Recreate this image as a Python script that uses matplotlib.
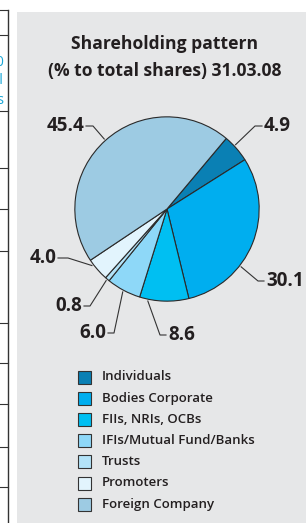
import matplotlib
matplotlib.use("Agg")
import matplotlib.pyplot as plt
import numpy as np

# datos del grafico
categorias = ["Individuals", "Bodies Corporate", "FIIs, NRIs, OCBs",
              "IFIs/Mutual Fund/Banks", "Trusts", "Promoters", "Foreign Company"]
valores = [4.9, 30.1, 8.6, 6.0, 0.8, 4.0, 45.4]
etiquetas = ["4.9", "30.1", "8.6", "6.0", "0.8", "4.0", "45.4"]
colores = ["#0a80b4", "#00aeef", "#00bff2", "#8ed8f8", "#b3e3f8", "#e2f4fd", "#9dcbe3"]

titulo = "Shareholding pattern\n(% to total shares) 31.03.08"

W, H = 306, 523
fig = plt.figure(figsize=(W / 100, H / 100), dpi=100)
fig.patch.set_facecolor("white")

# capa de fondo en pixeles
bg = fig.add_axes([0, 0, 1, 1])
bg.set_xlim(0, W)
bg.set_ylim(H, 0)
bg.axis("off")
bg.add_patch(plt.Rectangle((17, 12), W - 17, H - 12, facecolor="#e6e7e8", edgecolor="none"))
# restos de la tabla a la izquierda
bg.plot([8, 8], [10, H], color="#333333", lw=1)
for yl in [10, 35, 111, 168, 209, 251, 323, 363, 404, 447, 487]:
    bg.plot([0, 8], [yl, yl], color="#333333", lw=0.8)
for txt, yy in [("2010", 63), ("ual", 81), ("ers", 100)]:
    bg.text(4, yy, txt, color="#1aa6d6", fontsize=10, ha="right", va="center",
            family="Open Sans")

bg.text(165, 44, titulo.split("\n")[0], ha="center", va="center", fontsize=12.6,
        family="Open Sans", fontweight="bold", color="#231f20")
bg.text(165, 71, titulo.split("\n")[1], ha="center", va="center", fontsize=12.6,
        family="Open Sans", fontweight="bold", color="#231f20")

# pastel
cx, cy, r = 167, 209, 94
pie_ax = fig.add_axes([(cx - r) / W, 1 - (cy + r) / H, 2 * r / W, 2 * r / H])
wedges, _ = pie_ax.pie(valores, colors=colores, startangle=50, counterclock=False,
                       radius=1, wedgeprops=dict(edgecolor="#2a2a2a", linewidth=0.8))
pie_ax.set_xlim(-1.02, 1.02)
pie_ax.set_ylim(-1.02, 1.02)
pie_ax.axis("off")

# capa de etiquetas
top = fig.add_axes([0, 0, 1, 1])
top.set_xlim(0, W)
top.set_ylim(H, 0)
top.axis("off")

# desplazamiento angular, codo y texto de cada etiqueta
desfase = [2, -16, -10, 0, 0, -4, 0]
codos = [(255, 126), (258, 281), (160, 335), (114, 333), (90, 306), (68, 258), (93, 126)]
textos = [(264, 126, "left"), (266, 281, "left"), (168, 335, "left"), (106, 333, "right"),
          (82, 306, "right"), (56, 258, "right"), (84, 126, "right")]
for w, d, (ex, ey), (tx, ty, ha), lab in zip(wedges, desfase, codos, textos, etiquetas):
    ang = np.deg2rad((w.theta1 + w.theta2) / 2 + d)
    ax0 = cx + r * np.cos(ang)
    ay0 = cy - r * np.sin(ang)
    tx_line = tx - 2 if ha == "left" else tx + 2
    top.plot([ax0, ex, tx_line], [ay0, ey, ey], color="#333333", lw=0.8)
    top.text(tx, ty, lab, ha=ha, va="center", fontsize=13.5, fontweight="bold",
             family="Open Sans", color="#231f20")

# leyenda
for i, (cat, col) in enumerate(zip(categorias, colores)):
    yy = 377 + i * 21.2
    top.add_patch(plt.Rectangle((78, yy - 6.5), 13, 13, facecolor=col,
                                edgecolor="#333333", lw=0.8))
    top.text(102, yy, cat, ha="left", va="center", fontsize=9.5,
             family="Open Sans", fontweight="semibold", color="#231f20")

fig.savefig("out.png", dpi=100)
